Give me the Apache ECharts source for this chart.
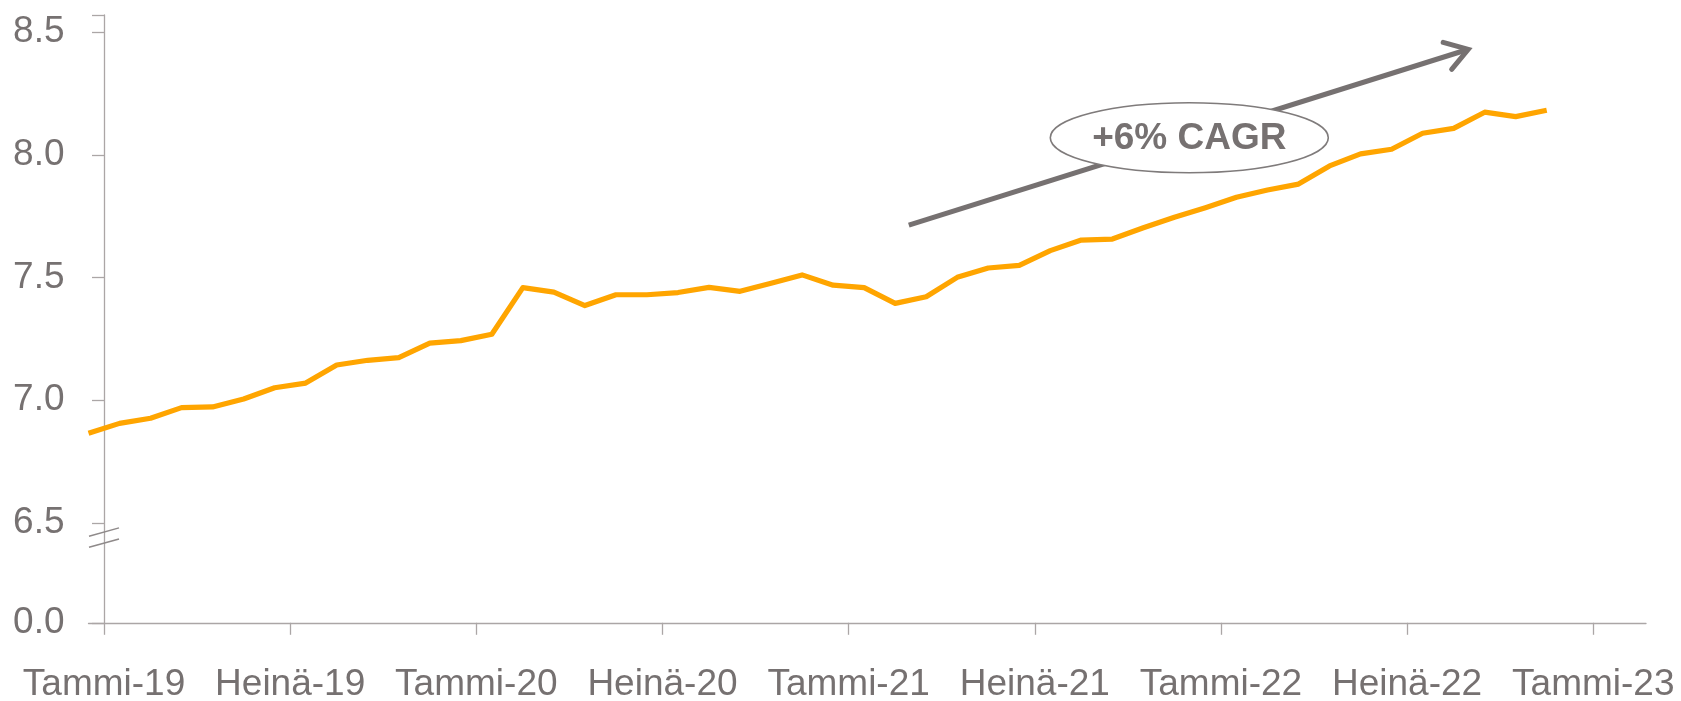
<!DOCTYPE html>
<html>
<head>
<meta charset="utf-8">
<script src="https://cdn.jsdelivr.net/npm/echarts@6/dist/echarts.min.js"></script>
<style>
  html, body { margin: 0; padding: 0; background: #ffffff; }
  #chart { width: 1681px; height: 701px; }
</style>
</head>
<body>
<div id="chart"></div>
<script>
// ---- Data ----
// Monthly observations, Dec 2018 .. Nov 2022 (each plotted at the middle of its month band)
const months = [
  '2018-12','2019-01','2019-02','2019-03','2019-04','2019-05','2019-06','2019-07','2019-08','2019-09','2019-10','2019-11',
  '2019-12','2020-01','2020-02','2020-03','2020-04','2020-05','2020-06','2020-07','2020-08','2020-09','2020-10','2020-11',
  '2020-12','2021-01','2021-02','2021-03','2021-04','2021-05','2021-06','2021-07','2021-08','2021-09','2021-10','2021-11',
  '2021-12','2022-01','2022-02','2022-03','2022-04','2022-05','2022-06','2022-07','2022-08','2022-09','2022-10','2022-11'
];
const values = [
  6.866, 6.906, 6.927, 6.970, 6.973, 7.005, 7.051, 7.070, 7.144, 7.163, 7.174, 7.233,
  7.243, 7.269, 7.459, 7.441, 7.386, 7.430, 7.430, 7.439, 7.460, 7.444, 7.477, 7.511,
  7.469, 7.459, 7.395, 7.422, 7.501, 7.539, 7.550, 7.610, 7.653, 7.657, 7.703, 7.746,
  7.785, 7.827, 7.857, 7.881, 7.955, 8.004, 8.023, 8.088, 8.108, 8.174, 8.156, 8.182
];
// X tick labels, one every 6 months starting January 2019
const xTickLabels = ['Tammi-19','Heinä-19','Tammi-20','Heinä-20','Tammi-21','Heinä-21','Tammi-22','Heinä-22','Tammi-23'];
const xTickStep = 6;
// Y tick labels (axis is broken between 0.0 and 6.5)
const yTickLabels = ['0.0','6.5','7.0','7.5','8.0','8.5'];
const yTickValues = [0.0, 6.5, 7.0, 7.5, 8.0, 8.5];
const annotationText = '+6% CAGR';

// ---- Axis construction ----
const Y_ZERO_POS = 6.0933;   // where the broken axis places 0.0
const Y_TOP = 8.57;
const X_MIN = -0.5;
const X_MAX = 49.7;
const yAxisVal = v => (v === 0 ? Y_ZERO_POS : v);
const yTickAxisVals = yTickValues.map(yAxisVal);
const xTickVals = xTickLabels.map((_, i) => i * xTickStep);

const gray = '#767171';
const axisGray = '#aba6a6';
const font = "'Liberation Sans', Arial, sans-serif";

const chart = echarts.init(document.getElementById('chart'), null, { renderer: 'canvas' });

chart.setOption({
  animation: false,
  backgroundColor: '#ffffff',
  grid: { left: 88.5, right: 35, top: 15, bottom: 78.2, containLabel: false, outerBoundsMode: 'none' },
  xAxis: {
    type: 'value',
    min: X_MIN,
    max: X_MAX,
    splitLine: { show: false },
    axisLine: { show: true, onZero: false, lineStyle: { color: axisGray, width: 1.3 } },
    axisTick: { show: true, length: 12, customValues: xTickVals, lineStyle: { color: axisGray, width: 1.3 } },
    axisLabel: {
      customValues: xTickVals,
      margin: 43,
      fontFamily: font, fontSize: 37, lineHeight: 38, color: gray,
      formatter: v => xTickLabels[Math.round(v / xTickStep)] || ''
    }
  },
  yAxis: {
    type: 'value',
    min: Y_ZERO_POS,
    max: Y_TOP,
    splitLine: { show: false },
    axisLine: { show: true, onZero: true, lineStyle: { color: axisGray, width: 1.3 } },
    axisTick: { show: true, length: 12, customValues: yTickAxisVals.concat([Y_TOP]), lineStyle: { color: axisGray, width: 1.3 } },
    axisLabel: {
      customValues: yTickAxisVals,
      margin: 24,
      fontFamily: font, fontSize: 37, color: gray,
      formatter: v => {
        const i = yTickAxisVals.findIndex(t => Math.abs(t - v) < 1e-6);
        return i >= 0 ? yTickLabels[i] : '';
      }
    }
  },
  series: [{
    type: 'line',
    name: 'value',
    data: values.map((v, i) => [i - 0.5, v]),
    symbol: 'none',
    lineStyle: { color: '#FFA500', width: 5.2, join: 'round' },
    z: 3
  }]
});

// ---- Annotations placed through the chart's own coordinate system ----
function drawAnnotations() {
  const P = p => chart.convertToPixel({ gridIndex: 0 }, p);
  const a0 = P([25.94, 7.714]);
  const a1 = P([43.97, 8.430]);
  const ang = Math.atan2(a1[1] - a0[1], a1[0] - a0[0]);
  const armLen = 26, armAng = 33 * Math.PI / 180;
  const arm1 = [a1[0] - armLen * Math.cos(ang - armAng), a1[1] - armLen * Math.sin(ang - armAng)];
  const arm2 = [a1[0] - armLen * Math.cos(ang + armAng), a1[1] - armLen * Math.sin(ang + armAng)];
  const shaftEnd = [a1[0] - 3 * Math.cos(ang), a1[1] - 3 * Math.sin(ang)];
  const c = P([34.98, 8.07]);

  // axis break marks just below 6.5
  const axX = P([0, 6.5])[0];
  const b1 = P([0, 6.463])[1];
  const b2 = P([0, 6.418])[1];

  chart.setOption({
    graphic: [
      { type: 'line', z: 10, shape: { x1: a0[0], y1: a0[1], x2: shaftEnd[0], y2: shaftEnd[1] },
        style: { stroke: gray, lineWidth: 5 } },
      { type: 'polyline', z: 10, shape: { points: [arm1, a1, arm2] },
        style: { stroke: gray, lineWidth: 5, fill: null, lineCap: 'round', lineJoin: 'miter' } },
      { type: 'ellipse', z: 11, shape: { cx: c[0], cy: c[1], rx: 139, ry: 35 },
        style: { fill: '#ffffff', stroke: '#7f7b7b', lineWidth: 1.6 } },
      { type: 'text', z: 12, x: c[0], y: c[1] + 1,
        style: { text: annotationText, fill: gray, font: "bold 37px 'Liberation Sans', Arial, sans-serif",
                 align: 'center', verticalAlign: 'middle' } },
      { type: 'line', z: 10, shape: { x1: axX - 15, y1: b1 + 4.2, x2: axX + 15, y2: b1 - 4.2 },
        style: { stroke: '#8f8a8a', lineWidth: 1.5 } },
      { type: 'line', z: 10, shape: { x1: axX - 15, y1: b2 + 4.2, x2: axX + 15, y2: b2 - 4.2 },
        style: { stroke: '#8f8a8a', lineWidth: 1.5 } }
    ]
  });
}
drawAnnotations();
</script>
</body>
</html>
